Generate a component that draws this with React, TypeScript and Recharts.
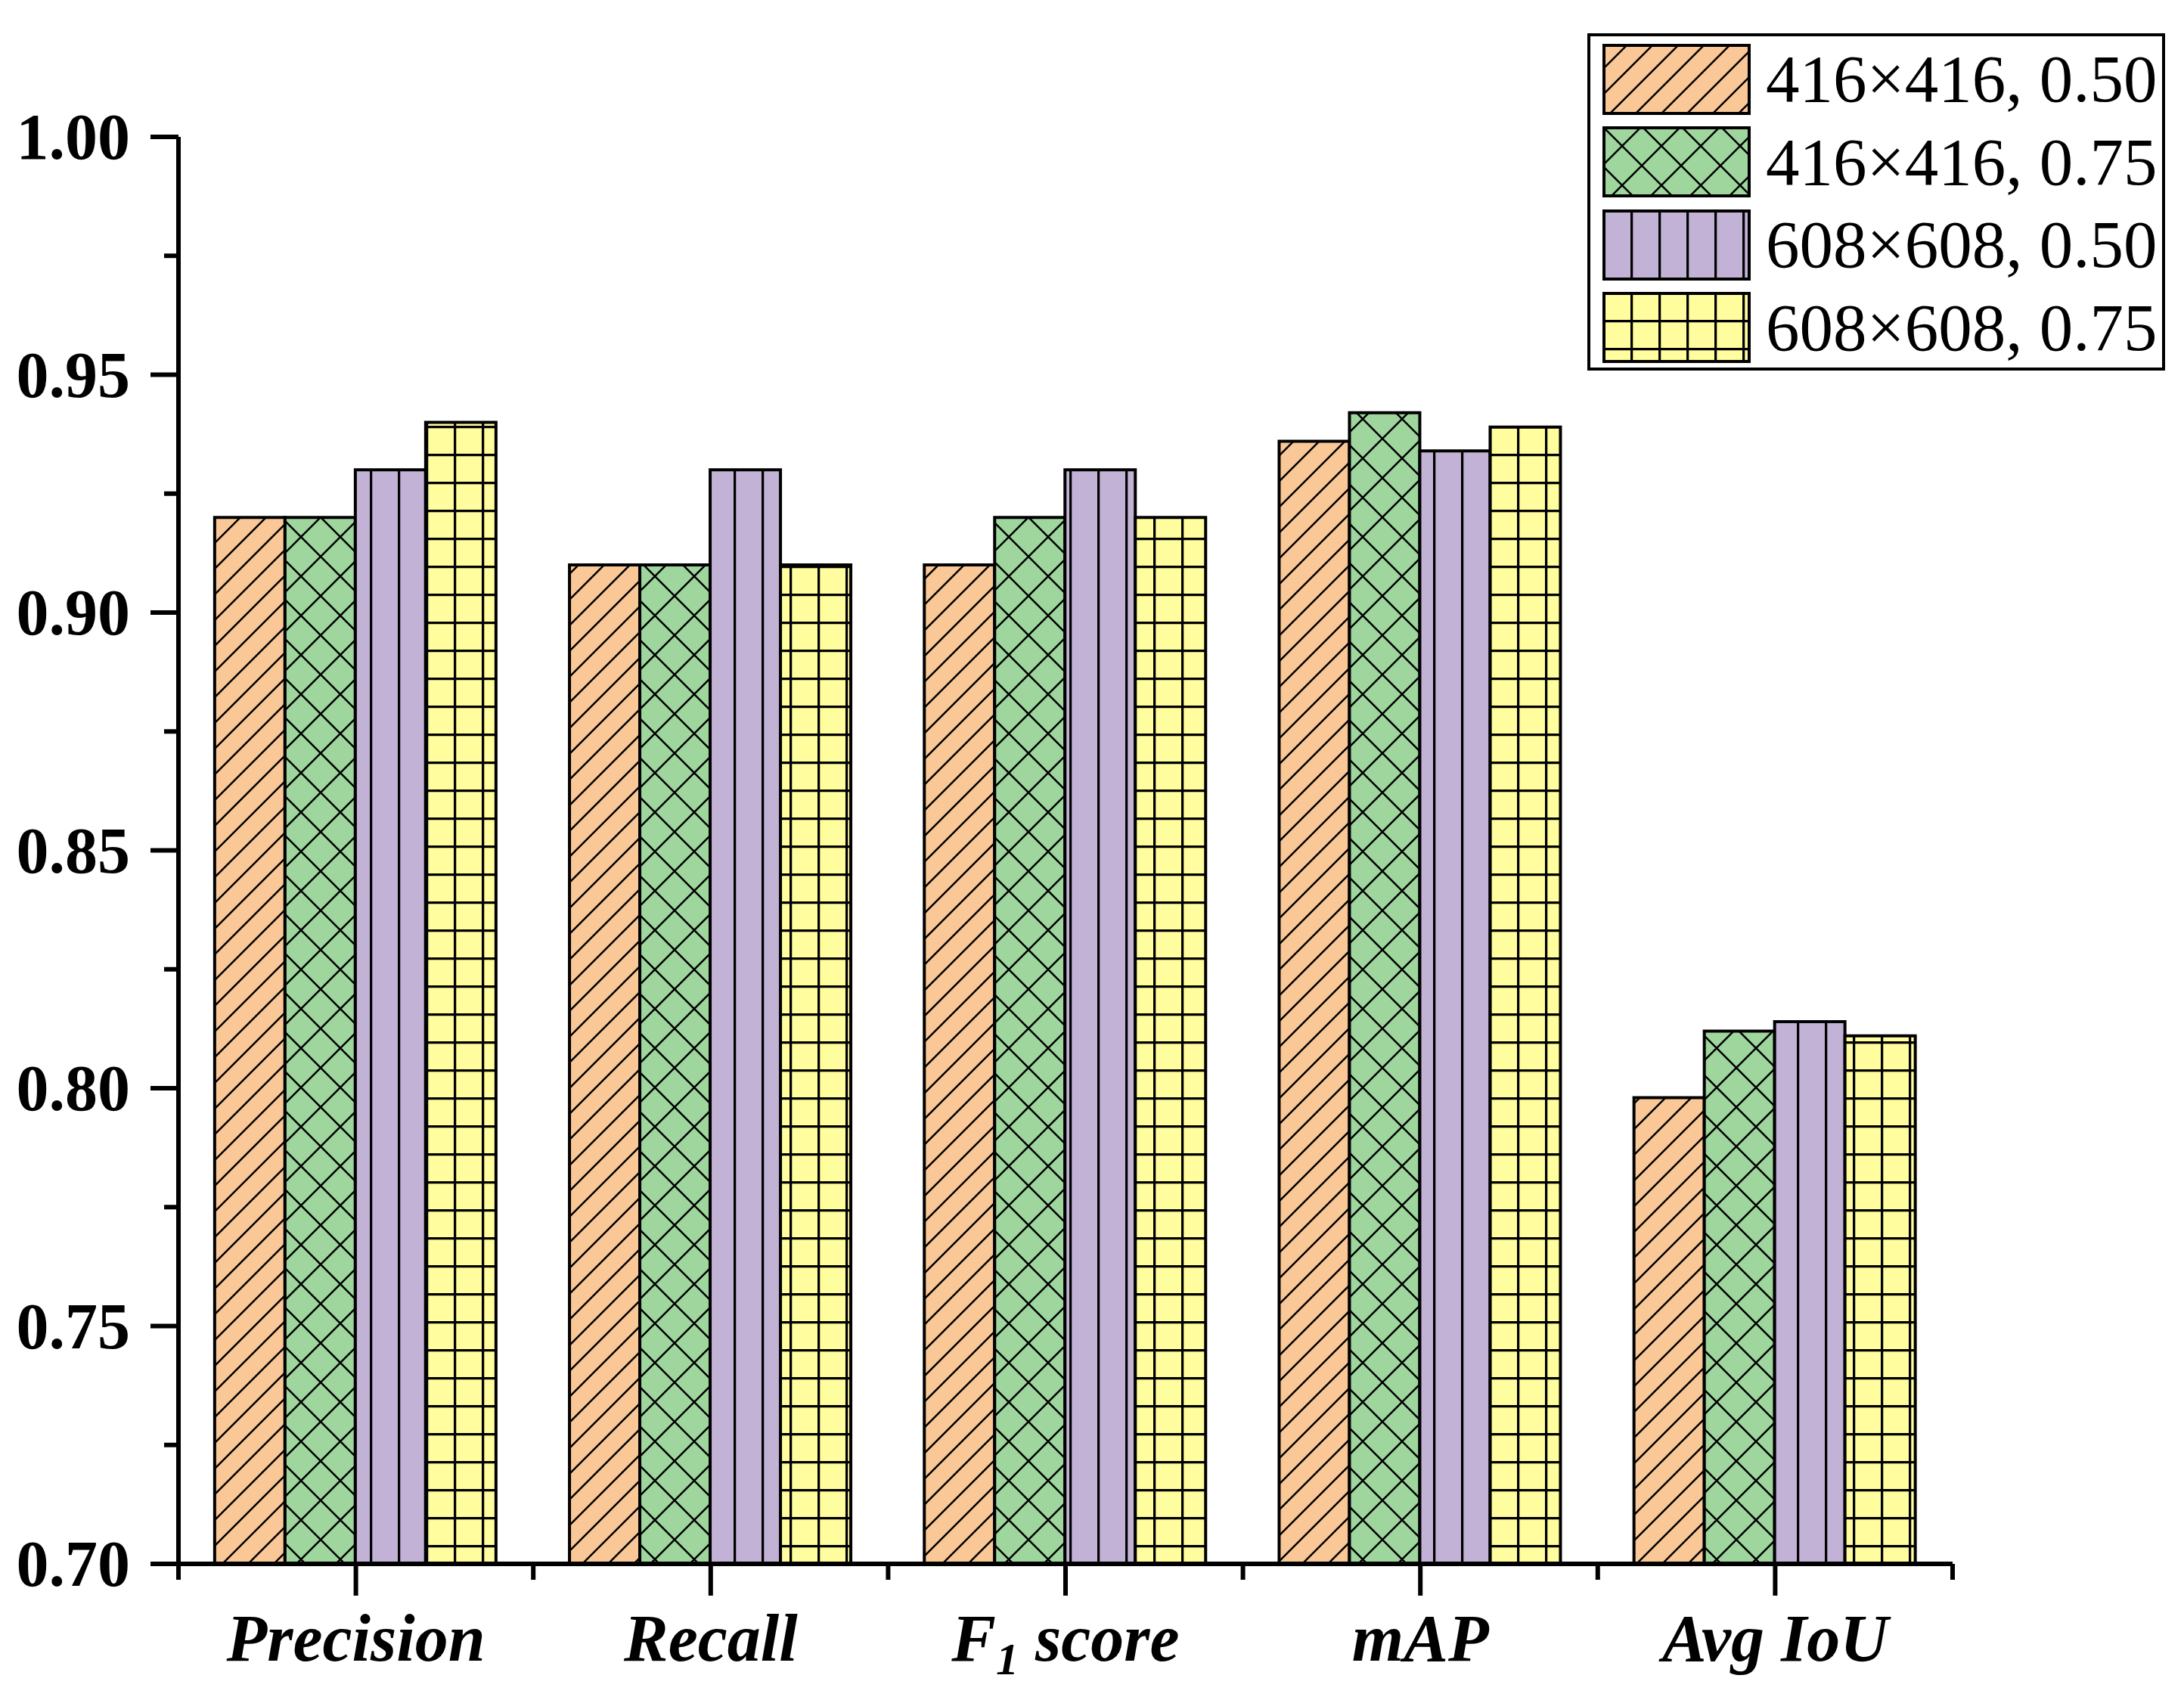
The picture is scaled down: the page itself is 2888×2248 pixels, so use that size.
import React from "react";
import { BarChart, Bar, XAxis, YAxis, Legend } from "recharts";

// categories on the x axis
const categories = ["Precision", "Recall", "F1 score", "mAP", "Avg IoU"];

// one array per input size / IoU threshold
const s416_050 = [0.92, 0.91, 0.91, 0.936, 0.798];
const s416_075 = [0.92, 0.91, 0.92, 0.942, 0.812];
const s608_050 = [0.93, 0.93, 0.93, 0.934, 0.814];
const s608_075 = [0.94, 0.91, 0.92, 0.939, 0.811];

const seriesNames = ["416×416, 0.50", "416×416, 0.75", "608×608, 0.50", "608×608, 0.75"];

const majorTicks = [0.7, 0.75, 0.8, 0.85, 0.9, 0.95, 1.0];
const minorTicks = [0.725, 0.775, 0.825, 0.875, 0.925, 0.975];

const data = categories.map((name, i) => ({
  name,
  a: s416_050[i],
  b: s416_075[i],
  c: s608_050[i],
  d: s608_075[i],
}));

const serif = "'Liberation Serif', 'Times New Roman', serif";
const fills = ["url(#hatchOrange)", "url(#crossGreen)", "url(#vlinePurple)", "url(#gridYellow)"];

function Patterns() {
  return (
    <svg width={0} height={0} style={{ position: "absolute" }}>
      <defs>
        <pattern id="hatchOrange" patternUnits="userSpaceOnUse" width={34} height={34}>
          <rect width={34} height={34} fill="#FAC896" />
          <path d="M0,34 L34,0 M-8,8 L8,-8 M26,42 L42,26" stroke="#000" strokeWidth={2.5} />
        </pattern>
        <pattern id="crossGreen" patternUnits="userSpaceOnUse" width={52} height={52}>
          <rect width={52} height={52} fill="#9ED69E" />
          <path d="M0,0 L52,52 M52,0 L0,52" stroke="#000" strokeWidth={2.5} />
        </pattern>
        <pattern id="vlinePurple" patternUnits="userSpaceOnUse" width={37} height={37}>
          <rect width={37} height={37} fill="#C2B2D6" />
          <path d="M1.5,0 L1.5,37" stroke="#000" strokeWidth={3.5} />
        </pattern>
        <pattern id="gridYellow" patternUnits="userSpaceOnUse" width={37} height={37}>
          <rect width={37} height={37} fill="#FFFD9E" />
          <path d="M1.5,0 L1.5,37 M0,1.5 L37,1.5" stroke="#000" strokeWidth={3.5} />
        </pattern>
      </defs>
    </svg>
  );
}

function YTick(props: any) {
  const { x, y, payload } = props;
  const v = payload.value;
  const major = majorTicks.some((m) => Math.abs(m - v) < 1e-6);
  return (
    <g>
      <line x1={x - (major ? 37 : 19)} x2={x} y1={y} y2={y} stroke="#000" strokeWidth={6} />
      {major && (
        <text x={x - 64} y={y} dy="0.34em" textAnchor="end" fontFamily={serif} fontWeight="bold" fontSize={86} fill="#000">
          {v.toFixed(2)}
        </text>
      )}
    </g>
  );
}

function XTick(props: any) {
  const { x, y, payload, index } = props;
  const off = payload.offset ?? 234.6;
  const label = payload.value;
  return (
    <g>
      <line x1={x} x2={x} y1={y} y2={y + 42} stroke="#000" strokeWidth={6} />
      <line x1={x - off} x2={x - off} y1={y} y2={y + 21} stroke="#000" strokeWidth={6} />
      {index === categories.length - 1 && (
        <line x1={x + off} x2={x + off} y1={y} y2={y + 21} stroke="#000" strokeWidth={6} />
      )}
      <text x={x} y={y + 128} textAnchor="middle" fontFamily={serif} fontWeight="bold" fontStyle="italic" fontSize={88} fill="#000">
        {label === "F1 score" ? (
          <>
            F<tspan dy={18} fontSize={60}>1</tspan>
            <tspan dy={-18}> score</tspan>
          </>
        ) : (
          label
        )}
      </text>
    </g>
  );
}

function LegendBox(props: any) {
  const items = props.payload || [];
  return (
    <div
      style={{
        border: "4px solid #000",
        background: "#fff",
        width: 764,
        height: 446,
        boxSizing: "border-box",
        paddingLeft: 16,
        paddingTop: 2,
      }}
    >
      {items.map((entry: any, i: number) => (
        <div key={i} style={{ display: "flex", alignItems: "center", height: 109.5 }}>
          <svg width={196} height={94} style={{ display: "block" }}>
            <rect x={2} y={2} width={192} height={90} fill={entry.payload?.fill ?? fills[i]} stroke="#000" strokeWidth={4} />
          </svg>
          <span style={{ marginLeft: 20, fontSize: 89, fontFamily: serif, lineHeight: 1, color: "#000" }}>
            {entry.value}
          </span>
        </div>
      ))}
    </div>
  );
}

export default function App() {
  return (
    <div>
      <Patterns />
      <BarChart
        width={2872}
        height={2232}
        data={data}
        margin={{ top: 173, right: 298, left: 0, bottom: 22 }}
        barCategoryGap="10.2%"
        barGap={0}
      >
        <XAxis
          dataKey="name"
          height={150}
          axisLine={{ stroke: "#000", strokeWidth: 6 }}
          tickLine={false}
          tickSize={0}
          tickMargin={0}
          interval={0}
          tick={<XTick />}
        />
        <YAxis
          width={228}
          domain={[0.7, 1.0]}
          ticks={[...majorTicks, ...minorTicks].sort((p, q) => p - q)}
          interval={0}
          allowDataOverflow
          axisLine={{ stroke: "#000", strokeWidth: 6 }}
          tickLine={false}
          tickSize={0}
          tickMargin={0}
          tick={<YTick />}
        />
        <Legend
          layout="vertical"
          align="center"
          verticalAlign="middle"
          wrapperStyle={{ left: 2091, top: 36, width: 764 }}
          content={<LegendBox />}
        />
        <Bar dataKey="a" name={seriesNames[0]} fill={fills[0]} stroke="#000" strokeWidth={4} isAnimationActive={false} />
        <Bar dataKey="b" name={seriesNames[1]} fill={fills[1]} stroke="#000" strokeWidth={4} isAnimationActive={false} />
        <Bar dataKey="c" name={seriesNames[2]} fill={fills[2]} stroke="#000" strokeWidth={4} isAnimationActive={false} />
        <Bar dataKey="d" name={seriesNames[3]} fill={fills[3]} stroke="#000" strokeWidth={4} isAnimationActive={false} />
      </BarChart>
    </div>
  );
}
